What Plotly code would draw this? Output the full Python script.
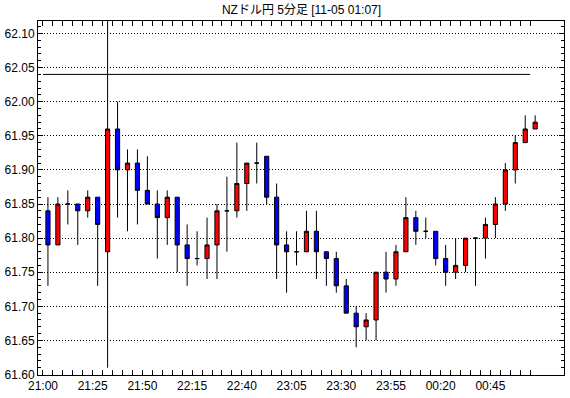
import plotly.graph_objects as go

# ---- data ----
title_text = "NZドル円 5分足 [11-05 01:07]"
opens  = [61.84, 61.79, 61.85, 61.85, 61.84, 61.86, 61.78, 61.96, 61.90, 61.91,
          61.87, 61.85, 61.83, 61.86, 61.79, 61.77, 61.77, 61.79, 61.84, 61.84,
          61.88, 61.91, 61.92, 61.86, 61.79, 61.78, 61.78, 61.81, 61.78, 61.77,
          61.73, 61.69, 61.67, 61.68, 61.75, 61.74, 61.78, 61.83, 61.81, 61.81,
          61.77, 61.75, 61.76, 61.80, 61.80, 61.82, 61.85, 61.90, 61.94, 61.96]
highs  = [61.86, 61.86, 61.87, 61.85, 61.87, 61.86, 62.13, 62.00, 61.93, 61.93,
          61.92, 61.87, 61.87, 61.86, 61.82, 61.81, 61.83, 61.85, 61.89, 61.94,
          61.91, 61.94, 61.92, 61.88, 61.81, 61.81, 61.84, 61.84, 61.78, 61.78,
          61.74, 61.70, 61.69, 61.75, 61.78, 61.79, 61.86, 61.84, 61.83, 61.81,
          61.79, 61.80, 61.80, 61.80, 61.83, 61.86, 61.91, 61.95, 61.98, 61.98]
lows   = [61.73, 61.79, 61.82, 61.79, 61.83, 61.73, 61.61, 61.83, 61.81, 61.82,
          61.85, 61.77, 61.79, 61.75, 61.73, 61.76, 61.74, 61.74, 61.78, 61.83,
          61.84, 61.88, 61.85, 61.74, 61.72, 61.76, 61.78, 61.74, 61.73, 61.72,
          61.69, 61.64, 61.65, 61.65, 61.72, 61.73, 61.78, 61.79, 61.80, 61.76,
          61.73, 61.74, 61.75, 61.73, 61.77, 61.80, 61.84, 61.88, 61.94, 61.96]
closes = [61.79, 61.85, 61.85, 61.84, 61.86, 61.82, 61.96, 61.90, 61.91, 61.87,
          61.85, 61.83, 61.86, 61.79, 61.77, 61.77, 61.79, 61.84, 61.84, 61.88,
          61.91, 61.91, 61.86, 61.79, 61.78, 61.78, 61.81, 61.78, 61.77, 61.73,
          61.69, 61.67, 61.68, 61.75, 61.74, 61.78, 61.83, 61.81, 61.81, 61.77,
          61.75, 61.76, 61.80, 61.80, 61.82, 61.85, 61.90, 61.94, 61.96, 61.97]
time_labels = ["21:00", "21:25", "21:50", "22:15", "22:40",
               "23:05", "23:30", "23:55", "00:20", "00:45"]
label_every = 5
ref_level = 62.04
y_range = [61.5993, 62.1183]

n = len(opens)
xs = list(range(n))
tick_pos = [i - 0.5 for i in xs]
tick_txt = [time_labels[i // label_every] if i % label_every == 0 and i // label_every < len(time_labels) else ""
            for i in xs]

FONT = "Liberation Sans Narrow, Liberation Sans, Arial, Noto Sans CJK JP"

fig = go.Figure()
fig.add_trace(go.Candlestick(
    x=xs, open=opens, high=highs, low=lows, close=closes,
    increasing=dict(fillcolor="#ff0000", line=dict(color="black", width=1)),
    decreasing=dict(fillcolor="#0000ff", line=dict(color="black", width=1)),
    whiskerwidth=0, showlegend=False, hoverinfo="skip",
))
fig.add_trace(go.Scatter(
    x=[tick_pos[0], tick_pos[-1]], y=[ref_level, ref_level], mode="lines",
    line=dict(color="black", width=1), showlegend=False, hoverinfo="skip",
))

fig.update_layout(
    width=570, height=398,
    margin=dict(l=38, r=5, t=21, b=21),
    paper_bgcolor="white", plot_bgcolor="white",
    boxgap=0.4,
    font=dict(family=FONT, size=12, color="black"),
    title=dict(text=title_text, x=(38 + 565) / 2 / 570, xanchor="center",
               y=1 - 10 / 398, yanchor="middle", yref="container",
               font=dict(family="Liberation Sans Narrow, Liberation Sans, Noto Sans CJK JP", size=12, color="black")),
)
fig.update_xaxes(
    range=[-1.0, 51.9], rangeslider=dict(visible=False),
    tickmode="array", tickvals=tick_pos, ticktext=tick_txt,
    ticks="inside", ticklen=5, tickcolor="black", tickwidth=1,
    showline=True, linecolor="black", linewidth=1, mirror="allticks",
    showgrid=False, zeroline=False,
    tickfont=dict(family=FONT, size=12, color="black"),
)
fig.update_yaxes(
    range=y_range, dtick=0.05, tick0=61.6, tickformat=".2f",
    ticks="inside", ticklen=5, tickcolor="black", tickwidth=1,
    minor=dict(dtick=0.01, ticks="inside", ticklen=3, tickcolor="black", showgrid=False),
    showline=True, linecolor="black", linewidth=1, mirror="allticks",
    showgrid=True, gridcolor="black", gridwidth=1, griddash="1px,2px",
    zeroline=False,
    tickfont=dict(family=FONT, size=12, color="black"),
)

fig.write_html("out.html")
